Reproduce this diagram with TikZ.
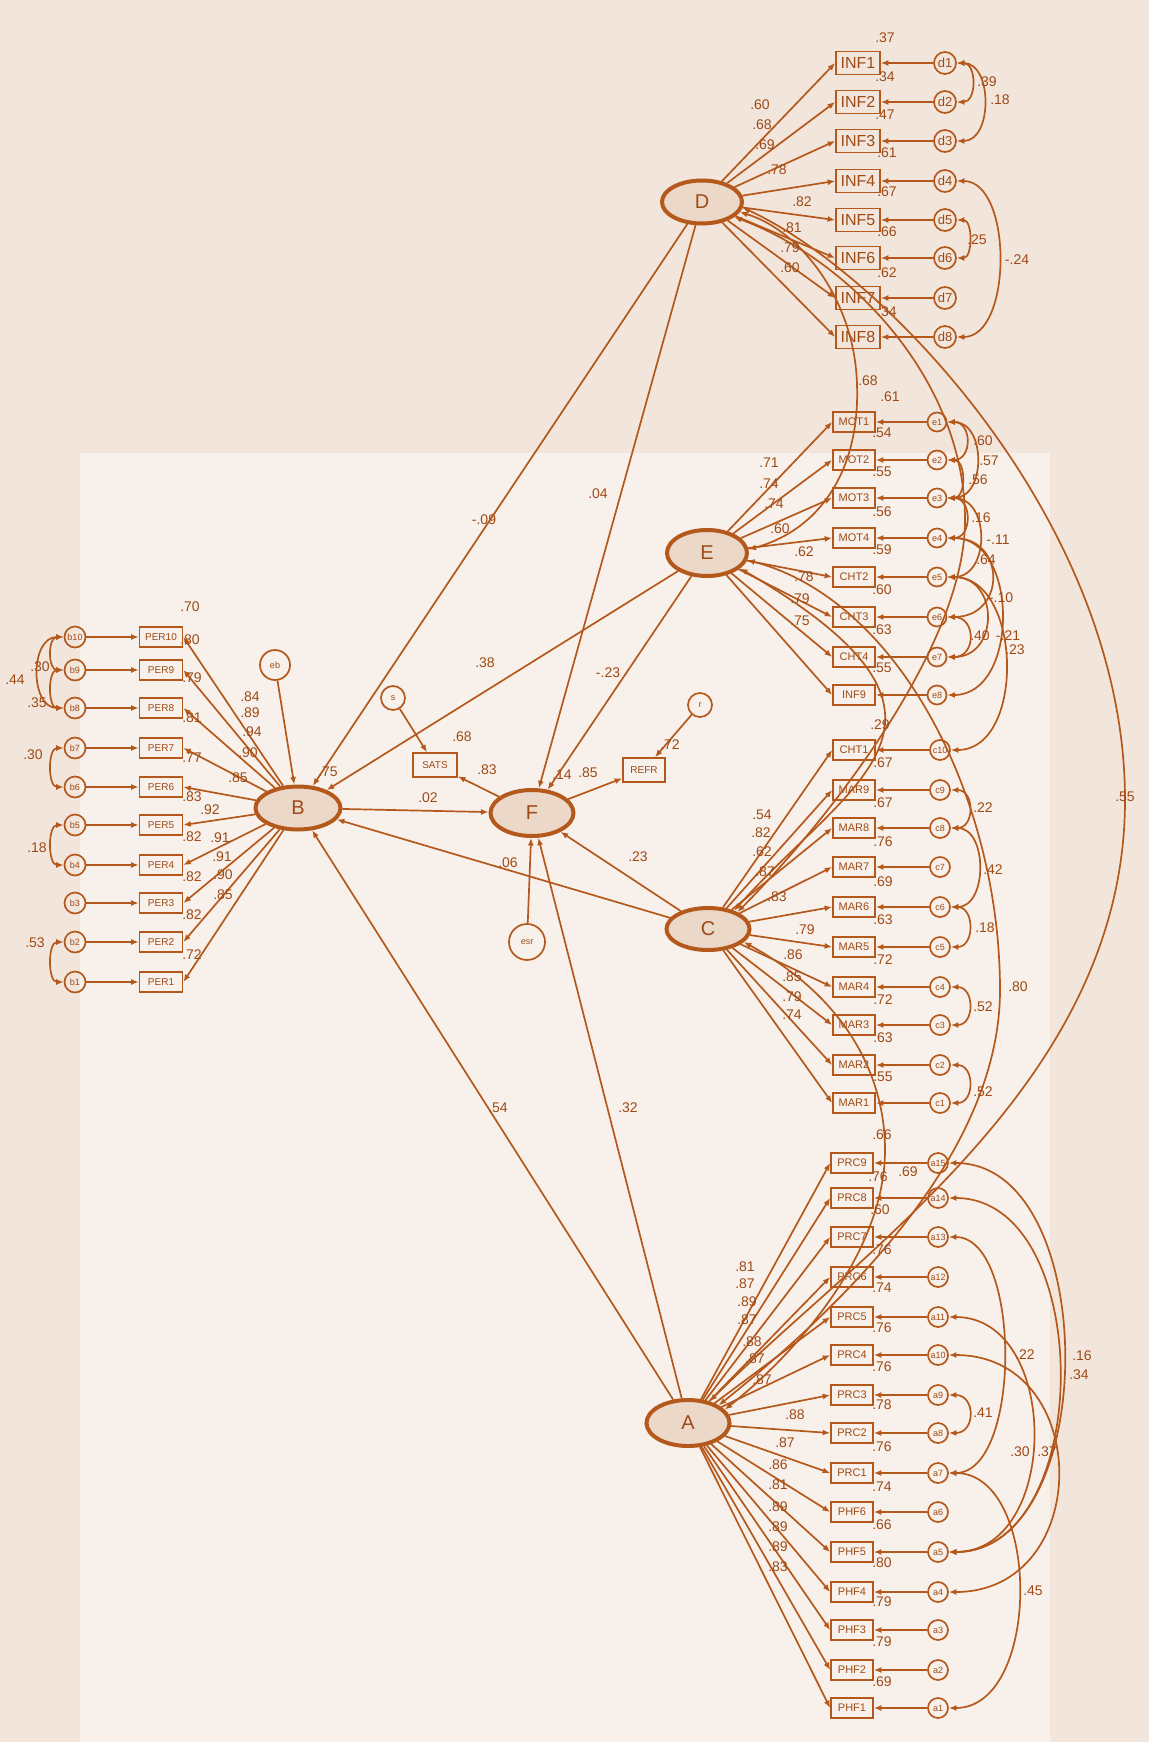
\documentclass[tikz,border=0pt]{standalone}
\usepackage{fontspec}
\setmainfont{Liberation Sans}
\usetikzlibrary{arrows.meta,shapes.geometric}
\definecolor{ln}{HTML}{B5581C}
\definecolor{tx}{HTML}{9E4A16}
\definecolor{bgout}{HTML}{F2E6DC}
\definecolor{bgin}{HTML}{F8F1EB}
\definecolor{lat}{HTML}{EBD8C9}
\tikzset{
  lv/.style={ellipse,draw=ln,line width=4pt,fill=lat,inner sep=0pt,text=tx,font=\fontsize{20}{20}\selectfont},
  ob/.style={rectangle,draw=ln,line width=1.7pt,inner sep=0pt,minimum width=42pt,minimum height=20pt,text=tx,font=\fontsize{11}{11}\selectfont},
  obig/.style={ob,minimum width=44pt,minimum height=23pt,font=\fontsize{16}{16}\selectfont},
  er/.style={circle,draw=ln,line width=1.7pt,inner sep=0pt,minimum size=19pt,text=tx,font=\fontsize{9}{9}\selectfont},
  erbig/.style={er,minimum size=22pt,font=\fontsize{13}{13}\selectfont},
  ar/.style={draw=ln,line width=1.7pt,-{Latex[length=7.5pt,width=6pt]}},
  dar/.style={draw=ln,line width=1.7pt,{Latex[length=7.5pt,width=6pt]}-{Latex[length=7.5pt,width=6pt]}},
  lb/.style={inner sep=0pt,text=tx,font=\fontsize{14}{14}\selectfont},
}
\begin{document}
\begin{tikzpicture}[x=1pt,y=-1pt]
\fill[bgout] (0,0) rectangle (1149,1742);
\fill[bgin] (80,453) rectangle (1050,1742);
\useasboundingbox (0,0) rectangle (1149,1742);

% latent variables
\node[lv,minimum width=80pt,minimum height=43pt] (D) at (702,202) {D};
\node[lv,minimum width=80pt,minimum height=46pt] (E) at (707,553) {E};
\node[lv,minimum width=83pt,minimum height=42pt] (C) at (708,929) {C};
\node[lv,minimum width=83pt,minimum height=46pt] (A) at (688,1423) {A};
\node[lv,minimum width=85pt,minimum height=43pt] (B) at (298,808) {B};
\node[lv,minimum width=83pt,minimum height=46pt] (F) at (532,813) {F};

% indicators and errors
\foreach \n/\y/\c in {INF1/63/d1,INF2/102/d2,INF3/141/d3,INF4/181/d4,INF5/220/d5,INF6/258/d6,INF7/298/d7,INF8/337/d8}{
  \node[obig] (\n) at (858,\y) {\n};
  \node[erbig] (\c) at (945,\y) {\c};
  \draw[ar] (\c) -- (\n);
  \draw[ar] (D) -- (\n.west);
}
\foreach \n/\y/\c in {MOT1/422/e1,MOT2/460/e2,MOT3/498/e3,MOT4/538/e4,CHT2/577/e5,CHT3/617/e6,CHT4/657/e7,INF9/695/e8}{
  \node[ob] (\n) at (854,\y) {\n};
  \node[er] (\c) at (937,\y) {\c};
  \draw[ar] (\c) -- (\n);
  \draw[ar] (E) -- (\n.west);
}
\foreach \n/\y/\c in {CHT1/750/c10,MAR9/790/c9,MAR8/828/c8,MAR7/867/c7,MAR6/907/c6,MAR5/947/c5,MAR4/987/c4,MAR3/1025/c3,MAR2/1065/c2,MAR1/1103/c1}{
  \node[ob] (\n) at (854,\y) {\n};
  \node[er,minimum size=20pt] (\c) at (940,\y) {\c};
  \draw[ar] (\c) -- (\n);
  \draw[ar] (C) -- (\n.west);
}
\foreach \n/\y/\c in {PRC9/1163/a15,PRC8/1198/a14,PRC7/1237/a13,PRC6/1277/a12,PRC5/1317/a11,PRC4/1355/a10,PRC3/1395/a9,PRC2/1433/a8,PRC1/1473/a7,PHF6/1512/a6,PHF5/1552/a5,PHF4/1592/a4,PHF3/1630/a3,PHF2/1670/a2,PHF1/1708/a1}{
  \node[ob] (\n) at (852,\y) {\n};
  \node[er,minimum size=20pt] (\c) at (938,\y) {\c};
  \draw[ar] (\c) -- (\n);
  \draw[ar] (A) -- (\n.west);
}
\foreach \n/\y/\c in {PER10/637/b10,PER9/670/b9,PER8/708/b8,PER7/748/b7,PER6/787/b6,PER5/825/b5,PER4/865/b4,PER3/903/b3,PER2/942/b2,PER1/982/b1}{
  \node[ob,minimum width=43pt,font=\fontsize{10}{10}\selectfont] (\n) at (161,\y) {\n};
  \node[er,minimum size=21pt] (\c) at (75,\y) {\c};
  \draw[ar] (\c) -- (\n);
  \draw[ar] (B) -- (\n.east);
}

% outcome indicators and disturbances
\node[ob,minimum width=44pt,minimum height=24pt,font=\fontsize{10}{10}\selectfont] (SATS) at (435,765) {SATS};
\node[ob,minimum width=42pt,minimum height=24pt,font=\fontsize{10}{10}\selectfont] (REFR) at (644,770) {REFR};
\node[er,minimum size=24pt] (s) at (393,698) {s};
\node[er,minimum size=24pt] (r) at (700,705) {r};
\node[er,minimum size=36pt] (esr) at (527,942) {esr};
\node[er,minimum size=30pt] (eb) at (275,665) {eb};

% structural paths
\draw[ar] (D) -- (B);
\draw[ar] (D) -- (F);
\draw[ar] (E) -- (B);
\draw[ar] (E) -- (F);
\draw[ar] (B) -- (F);
\draw[ar] (C) -- (B);
\draw[ar] (C) -- (F);
\draw[ar] (A) -- (B);
\draw[ar] (A) -- (F);
\draw[ar] (eb) -- (B);
\draw[ar] (esr) -- (F);
\draw[ar] (F) -- (SATS);
\draw[ar] (F) -- (REFR);
\draw[ar] (s) -- (SATS);
\draw[ar] (r) -- (REFR);

% latent correlations
\draw[dar] (D.-15) .. controls (800,230) and (855,300) .. (857,385) .. controls (860,470) and (820,530) .. (E.5);
\draw[dar] (D.-25) .. controls (850,260) and (965,380) .. (965,520) .. controls (965,660) and (800,850) .. (C.30);
\draw[dar] (D.-8) .. controls (880,270) and (1125,520) .. (1125,800) .. controls (1125,1080) and (860,1250) .. (A.45);
\draw[dar] (E.-25) .. controls (1000,720) and (850,780) .. (C.35);
\draw[dar] (E.-10) .. controls (900,600) and (1000,800) .. (1000,990) .. controls (1000,1150) and (850,1300) .. (A.30);
\draw[dar] (C.-20) .. controls (850,1000) and (885,1080) .. (885,1150) .. controls (885,1250) and (800,1350) .. (A.20);

% error covariances D
\draw[dar] (d1.east) .. controls +(20,0) and +(20,0) .. (d2.east);
\draw[dar] (d1.east) .. controls +(36,0) and +(36,0) .. (d3.east);
\draw[dar] (d5.east) .. controls +(16,0) and +(16,0) .. (d6.east);
\draw[dar] (d4.east) .. controls +(56,0) and +(56,0) .. (d8.east);
% error covariances E
\draw[dar] (e1.east) .. controls +(25,0) and +(25,0) .. (e2.east);
\draw[dar] (e1.east) .. controls +(39,0) and +(39,0) .. (e3.east);
\draw[dar] (e2.east) .. controls +(19,0) and +(19,0) .. (e3.east);
\draw[dar] (e3.east) .. controls +(25,0) and +(25,0) .. (e4.east);
\draw[dar] (e3.east) .. controls +(43,0) and +(43,0) .. (e5.east);
\draw[dar] (e4.east) .. controls +(59,0) and +(59,0) .. (e6.east);
\draw[dar] (e5.east) .. controls +(52,0) and +(52,0) .. (e7.east);
\draw[dar] (e6.east) .. controls +(29,0) and +(29,0) .. (e7.east);
\draw[dar] (e4.east) .. controls +(72,0) and +(72,0) .. (e8.east);
\draw[dar] (e5.east) .. controls +(75,0) and +(75,0) .. (c10.east);
% error covariances C
\draw[dar] (c9.east) .. controls +(24,0) and +(24,0) .. (c8.east);
\draw[dar] (c8.east) .. controls +(37,0) and +(37,0) .. (c6.east);
\draw[dar] (c6.east) .. controls +(24,0) and +(24,0) .. (c5.east);
\draw[dar] (c4.east) .. controls +(24,0) and +(24,0) .. (c3.east);
\draw[dar] (c2.east) .. controls +(24,0) and +(24,0) .. (c1.east);
% error covariances A
\draw[dar] (a15.east) .. controls +(153,0) and +(153,0) .. (a5.east);
\draw[dar] (a14.east) .. controls +(147,0) and +(147,0) .. (a5.east);
\draw[dar] (a13.east) .. controls +(73,0) and +(73,0) .. (a7.east);
\draw[dar] (a11.east) .. controls +(112,0) and +(112,0) .. (a5.east);
\draw[dar] (a10.east) .. controls +(145,0) and +(145,0) .. (a4.east);
\draw[dar] (a9.east) .. controls +(27,0) and +(27,0) .. (a8.east);
\draw[dar] (a7.east) .. controls +(93,0) and +(93,0) .. (a1.east);
% error covariances B
\draw[dar] (b10.west) .. controls +(-16,0) and +(-16,0) .. (b9.west);
\draw[dar] (b10.west) .. controls +(-34,0) and +(-34,0) .. (b8.west);
\draw[dar] (b9.west) .. controls +(-16,0) and +(-16,0) .. (b8.west);
\draw[dar] (b7.west) .. controls +(-16,0) and +(-16,0) .. (b6.west);
\draw[dar] (b5.west) .. controls +(-16,0) and +(-16,0) .. (b4.west);
\draw[dar] (b2.west) .. controls +(-16,0) and +(-16,0) .. (b1.west);

% labels: loadings
\foreach \t/\x/\y in {.60/760/105,.68/762/125,.69/765/145,.78/777/170,.82/802/202,.81/792/228,.79/790/248,.60/790/268,
 .71/769/463,.74/769/484,.74/774/504,.60/780/529,.62/804/552,.78/804/577,.79/800/599,.75/800/621,
 .54/762/815,.82/761/833,.62/762/852,.87/765/872,.83/777/897,.79/805/930,.86/793/955,.85/792/977,.79/792/997,.74/792/1015,
 .81/745/1267,.87/745/1284,.89/747/1302,.87/747/1320,.88/752/1342,.87/755/1359,.87/762/1380,.88/795/1415,
 .87/785/1443,.86/778/1465,.81/778/1485,.89/778/1507,.89/778/1527,.89/778/1547,.83/778/1567,
 .84/250/697,.89/250/713,.94/252/732,.90/248/753,.85/238/778,.92/210/810,.91/220/838,.91/222/857,.90/223/875,.85/223/895}
 {\node[lb] at (\x,\y) {\t};}
% labels: squared multiple correlations
\foreach \t/\x/\y in {.37/885/38,.34/885/77,.47/885/115,.61/887/153,.67/887/192,.66/887/232,.62/887/273,.34/887/312,
 .54/882/433,.55/882/472,.56/882/512,.59/882/550,.60/882/590,.63/882/630,.55/882/668,
 .67/883/763,.67/883/803,.76/883/842,.69/883/882,.63/883/920,.72/883/960,.72/883/1000,.63/883/1038,.55/883/1077,
 .76/878/1177,.69/908/1172,.60/880/1210,.76/882/1250,.74/882/1288,.76/882/1328,.76/882/1367,.78/882/1405,
 .76/882/1447,.74/882/1487,.66/882/1525,.80/882/1563,.79/882/1602,.79/882/1642,.69/882/1682,
 .70/190/607,.80/190/640,.79/192/678,.81/192/718,.77/192/758,.83/192/797,.82/192/837,.82/192/877,.82/192/915,.72/192/955,
 .75/328/772,.68/462/737,.72/670/745,.14/562/775}
 {\node[lb] at (\x,\y) {\t};}
% labels: structural, outcome loadings, correlations
\foreach \t/\x/\y in {-.09/484/520,.04/598/494,.38/485/663,-.23/608/673,.02/428/798,.06/508/863,.23/638/857,.54/498/1108,.32/628/1108,
 .83/487/770,.85/588/773,
 .68/868/381,.61/890/397,.55/1125/797,.29/880/725,.80/1018/987,.66/882/1135,
 .39/987/82,.18/1000/100,.25/977/240,-.24/1017/260,
 .60/983/441,.57/989/461,.56/978/480,.16/981/518,-.11/998/540,.64/986/560,-.10/1001/598,.40/980/636,-.21/1008/636,.23/1015/650,
 .22/983/808,.42/993/870,.18/985/928,.52/983/1007,.52/983/1092,
 .16/1082/1356,.34/1079/1375,.22/1025/1355,.41/983/1413,.30/1020/1452,.37/1047/1452,.45/1033/1591,
 .44/15/680,.30/40/667,.35/37/703,.30/33/755,.18/37/848,.53/35/943}
 {\node[lb] at (\x,\y) {\t};}
\end{tikzpicture}
\end{document}
